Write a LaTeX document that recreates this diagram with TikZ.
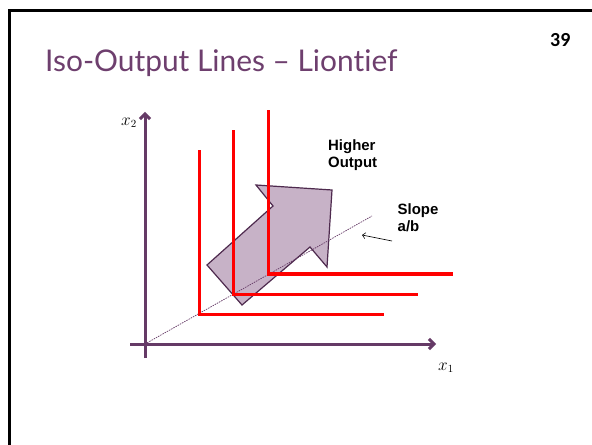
\documentclass[tikz,border=0pt]{standalone}
\usepackage{fontspec}
\setmainfont{Liberation Sans}
\newfontfamily\titlefont[Ligatures=NoCommon]{Lato}
\newfontfamily\numfont{Carlito}
\usetikzlibrary{arrows.meta}
\definecolor{tpurple}{HTML}{6E3F6E}
\definecolor{axpurple}{HTML}{653A66}
\definecolor{arrfill}{HTML}{C7B2C7}
\definecolor{arrline}{HTML}{4E2A4E}
\tikzset{
  axisline/.style={draw=axpurple, line width=3bp, -{Straight Barb[length=5bp,width=10bp]}},
  isoline/.style={draw=red, line width=3bp, line cap=rect},
  lbl/.style={font=\bfseries\fontsize{15}{18}\selectfont, align=left, inner sep=0pt},
  mathlbl/.style={font=\fontsize{16}{18}\selectfont, inner sep=0pt},
}
\begin{document}
\begin{tikzpicture}[x=1bp,y=-1bp]
\useasboundingbox (0,0) rectangle (592,445);
\fill[white] (0,0) rectangle (592,445);
% frame
\draw[line width=3bp] (9.5,445) -- (9.5,10.5) -- (592,10.5);
% title and page number
\node[anchor=base west, inner sep=0pt, text=tpurple, font=\titlefont\fontsize{30}{34}\selectfont] (title) at (45,72) {Iso-Output Lines – Liontief};
\node[anchor=base west, inner sep=0pt, font=\numfont\bfseries\fontsize{20}{24}\selectfont] (pagenum) at (550,47) {39};
% arrow shape
\coordinate (a1) at (207,265);
\coordinate (a2) at (242,305);
\coordinate (a3) at (310,247);
\coordinate (a4) at (327,267);
\coordinate (a5) at (332,190);
\coordinate (a6) at (256,185);
\coordinate (a7) at (273,206);
\filldraw[fill=arrfill, draw=arrline, line width=1.2bp, line join=miter] (a1) -- (a2) -- (a3) -- (a4) -- (a5) -- (a6) -- (a7) -- cycle;
% axes
\coordinate (origin) at (145,344);
\coordinate (ybot) at (145,358);
\coordinate (ytop) at (145,112);
\coordinate (xleft) at (130,344);
\coordinate (xright) at (436,344);
\draw[axisline] (ybot) -- (ytop);
\draw[axisline] (xleft) -- (xright);
\node[mathlbl] (x2) at (129,123) {$x_2$};
\node[mathlbl] (x1) at (446,368) {$x_1$};
% ray
\coordinate (rayend) at (372,216);
\draw[axpurple, line width=0.7bp, dash pattern=on 1.5bp off 1bp] (origin) -- (rayend);
% iso-output lines
\draw[isoline] (199,152) -- (199,314) -- (382,314);
\draw[isoline] (233,132) -- (233,294) -- (416,294);
\draw[isoline] (268,112) -- (268,274) -- (451,274);
% labels
\node[lbl, anchor=base west] (higher) at (328,168) {Higher\\Output};
\node[lbl, anchor=base west] (slope) at (397.5,232) {Slope\\a/b};
\coordinate (sfrom) at (392,241);
\coordinate (sto) at (362,235);
\draw[line width=0.6bp, -{Straight Barb[length=3bp,width=6bp]}] (sfrom) -- (sto);
\end{tikzpicture}
\end{document}
